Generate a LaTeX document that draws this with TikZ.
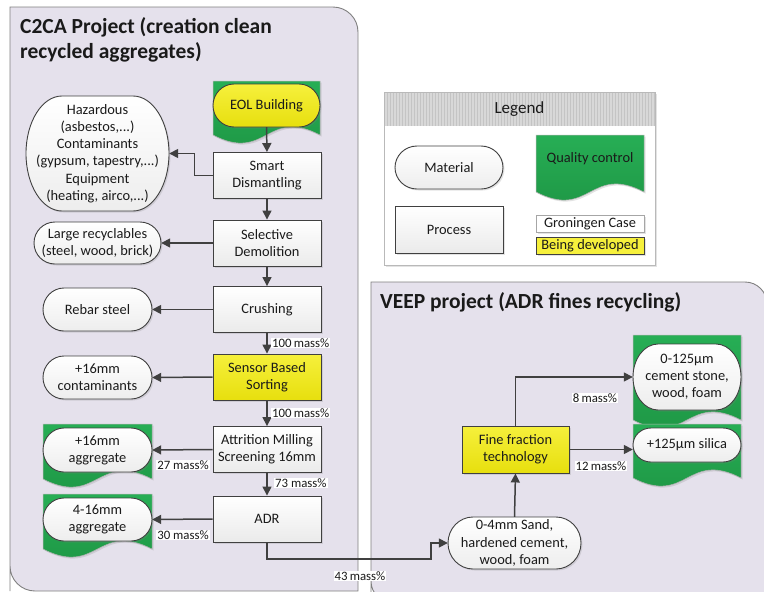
\documentclass[tikz,border=0pt]{standalone}
\usepackage{fontspec}
\setmainfont{Carlito}
\usetikzlibrary{arrows.meta,shadows,calc}
\definecolor{panelfill}{HTML}{E5E1EC}
\definecolor{panelline}{HTML}{808080}
\definecolor{lineC}{HTML}{404040}
\definecolor{greenT}{HTML}{27AE55}
\definecolor{greenB}{HTML}{1D9443}
\definecolor{yelT}{HTML}{F6F03C}
\definecolor{yelB}{HTML}{E7DF0E}
\definecolor{txt}{HTML}{1A1A1A}
\definecolor{hdrfill}{HTML}{D8D8D8}
\definecolor{hdrgrid}{HTML}{C4C4C4}
\tikzset{
  nfont/.style={font=\fontsize{14.4}{17.2}\selectfont},
  shad/.style={drop shadow={shadow xshift=1.5pt,shadow yshift=-1.5pt,opacity=0.22}},
  procbox/.style={draw=lineC, line width=0.9pt, rectangle, minimum width=108pt,
    minimum height=46pt, top color=white, bottom color=gray!16, align=center,
    nfont, text=txt, shad},
  devbox/.style={procbox, top color=yelT, bottom color=yelB},
  txtnode/.style={align=center, nfont, text=txt, inner sep=0pt},
  pillfill/.style={draw=lineC, line width=0.9pt, top color=white, bottom color=gray!14, shad},
  qcfill/.style={draw=gray!60, line width=0.5pt, top color=greenT, bottom color=greenB, shad},
  arr/.style={draw=lineC, line width=1.5pt, -{Triangle[length=9pt,width=9pt]}},
  masslbl/.style={fill=white, inner sep=1pt, font=\fontsize{12.8}{14}\selectfont, text=txt},
  panel/.style={fill=panelfill, draw=panelline, line width=0.9pt},
  titletxt/.style={font=\fontsize{21.5}{24.5}\selectfont\bfseries, text=txt, align=left, inner sep=0pt}
}
% pill: name, x0, y0, x1, y1, r, extra style, text
\newcommand\pillnode[8]{%
  \pgfmathsetmacro\pxa{#2+#6}\pgfmathsetmacro\pxb{#4-#6}%
  \pgfmathsetmacro\pym{(#3+#5)/2}\pgfmathsetmacro\pk{0.552*#6}%
  \pgfmathsetmacro\ph{0.552*(#5-#3)/2}%
  \pgfmathsetmacro\pxm{(#2+#4)/2}\pgfmathsetmacro\pw{#4-#2}\pgfmathsetmacro\phh{#5-#3}%
  \path[pillfill,#7] (\pxa,#3) -- (\pxb,#3)
    .. controls ({\pxb+\pk},#3) and (#4,{\pym-\ph}) .. (#4,\pym)
    .. controls (#4,{\pym+\ph}) and ({\pxb+\pk},#5) .. (\pxb,#5)
    -- (\pxa,#5)
    .. controls ({\pxa-\pk},#5) and (#2,{\pym+\ph}) .. (#2,\pym)
    .. controls (#2,{\pym-\ph}) and ({\pxa-\pk},#3) .. cycle;
  \node[txtnode, minimum width=\pw pt, minimum height=\phh pt] (#1) at (\pxm,\pym) {#8};}
% quality control tape: x0, y0, x1, yb
\newcommand\qcshape[4]{%
  \pgfmathsetmacro\qm{(#1+#3)/2}%
  \path[qcfill] (#1,#2) -- (#3,#2) -- (#3,#4)
    .. controls (\qm,{#4-28}) and (\qm,{#4+28}) .. (#1,#4) -- cycle;}
\begin{document}
\begin{tikzpicture}[x=1pt,y=-1pt]
\useasboundingbox (0,0) rectangle (764,592);
% ---- panels
\path[panel] (10,591) -- (10,7) -- (300,7) [rounded corners=25] -- (358,7) -- (358,120) [sharp corners]
  -- (358,591) -- (100,591) [rounded corners=25] -- (10,591) -- (10,500) [sharp corners] -- cycle;
\path[panel] (371,603) -- (371,282) -- (700,282) [rounded corners=22] -- (767,282) -- (767,380) [sharp corners]
  -- (767,603) -- (450,603) [rounded corners=22] -- (371,603) -- (371,520) [sharp corners] -- cycle;
\node[titletxt, anchor=west] (t1) at (20,40) {C2CA Project (creation clean\\recycled aggregates)};
\node[titletxt, anchor=west] (t2) at (380,302) {VEEP project (ADR fines recycling)};

% ---- legend
\path[fill=white, draw=gray!55, line width=0.8pt, shad] (384,92) rectangle (655,265);
\begin{scope}
  \clip (384,92) rectangle (655,126);
  \fill[hdrfill] (384,92) rectangle (655,126);
  \draw[hdrgrid, line width=0.35pt, step=3] (384,92) grid (655,126);
\end{scope}
\draw[gray!55, line width=0.8pt] (384,92) rectangle (655,265);
\node[text=txt, font=\fontsize{17}{20}\selectfont] (lgtitle) at (519.5,109) {Legend};
\pillnode{lgmat}{395}{146}{503}{189}{22}{}{Material}
\node[procbox, minimum width=108pt, minimum height=47pt] (lgproc) at (449,229.5) {Process};
\qcshape{536}{135}{644}{192}
\node[txtnode] (lgqc) at (590,159) {Quality control};
\node[draw=gray!70, line width=0.8pt, fill=white, minimum width=108pt, minimum height=17pt, inner sep=0pt, nfont, text=txt, shad] (lggc) at (590,223.5) {Groningen Case};
\node[draw=lineC, line width=0.8pt, fill=yelT, minimum width=108pt, minimum height=17pt, inner sep=0pt, nfont, text=txt, shad] (lgdev) at (590,245.5) {Being developed};

% ---- C2CA column
\qcshape{213}{81}{320}{135}
\pillnode{eol}{213}{84}{320}{127}{21}{top color=yelT,bottom color=yelB}{EOL Building}
\node[procbox] (smart) at (267,175.5) {Smart\\Dismantling};
\node[procbox] (selective) at (267,243) {Selective\\Demolition};
\node[procbox] (crushing) at (267,309.5) {Crushing};
\node[devbox] (sensor) at (267,377) {Sensor Based\\Sorting};
\node[procbox] (attrition) at (267,449.5) {Attrition Milling\\Screening 16mm};
\node[procbox] (adr) at (267,519) {ADR};

\pillnode{haz}{26}{96}{169}{211}{36}{}{Hazardous\\(asbestos,...)\\Contaminants\\(gypsum, tapestry,...)\\Equipment\\(heating, airco,...)}
\pillnode{large}{34}{222}{161}{264}{21}{}{Large recyclables\\(steel, wood, brick)}
\pillnode{rebar}{43}{288}{152}{331}{21}{}{Rebar steel}
\pillnode{contam}{43}{356}{152}{399}{21}{}{+16mm\\contaminants}
\qcshape{43}{424}{152}{479}
\pillnode{agga}{43}{428}{152}{472}{21}{}{+16mm\\aggregate}
\qcshape{43}{494}{152}{549}
\pillnode{aggb}{43}{498}{152}{541}{21}{}{4-16mm\\aggregate}

% ---- VEEP
\pillnode{sand}{448}{517}{581}{569}{25}{}{0-4mm Sand,\\hardened cement,\\wood, foam}
\node[devbox, minimum width=107pt, minimum height=47pt] (fine) at (515.5,449.5) {Fine fraction\\technology};
\qcshape{633}{335}{741}{420}
\pillnode{fines}{633}{344}{741}{410}{25}{}{0-125µm\\cement stone,\\wood, foam}
\qcshape{633}{424}{741}{478}
\pillnode{silica}{633}{428}{741}{462}{18}{}{+125µm silica}

% ---- connectors
\draw[arr] (eol.south) -- (smart.north);
\draw[arr] (smart.west) -- ++(-18,0) |- (haz.east);
\draw[arr] (smart.south) -- (selective.north);
\draw[arr] (selective.west) -- (large.east);
\draw[arr] (selective.south) -- (crushing.north);
\draw[arr] (crushing.west) -- (rebar.east);
\draw[arr] (crushing.south) -- (sensor.north);
\draw[arr] (sensor.west) -- (contam.east);
\draw[arr] (sensor.south) -- (attrition.north);
\draw[arr] (attrition.west) -- (agga.east);
\draw[arr] (attrition.south) -- (adr.north);
\draw[arr] (adr.west) -- (aggb.east);
\coordinate (bend) at (431,559);
\draw[arr] (adr.south) |- (bend) |- (sand.west);
\draw[arr] (sand.north) -- (fine.south);
\draw[arr] (fine.north) |- (fines.west);
\draw[arr] (fine.east) -- (fine.east -| silica.west);

% ---- mass labels
\node[masslbl, anchor=west] (m1) at (271,343) {100\,mass\%};
\node[masslbl, anchor=west] (m2) at (271,413) {100\,mass\%};
\node[masslbl] (m3) at (183,465) {27 mass\%};
\node[masslbl, anchor=west] (m4) at (274,483) {73 mass\%};
\node[masslbl] (m5) at (183,535) {30 mass\%};
\node[masslbl] (m6) at (360,576) {43\,mass\%};
\node[masslbl] (m7) at (595,398) {8\,mass\%};
\node[masslbl] (m8) at (601,466) {12\,mass\%};
\end{tikzpicture}
\end{document}
